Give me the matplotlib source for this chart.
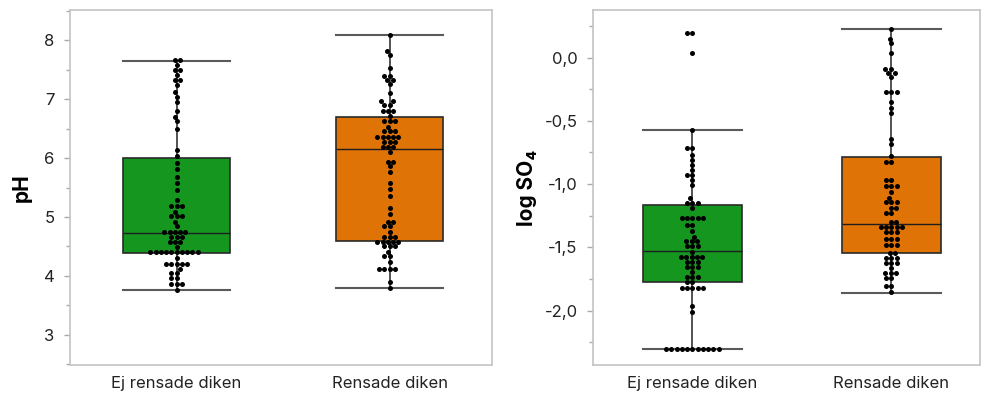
import numpy as np
import pandas as pd
import matplotlib
matplotlib.use('Agg')
import matplotlib.pyplot as plt
from matplotlib.ticker import MultipleLocator, FuncFormatter
import seaborn as sns

plt.rcParams['font.family'] = ['Inter', 'DejaVu Sans']

groups = ['Ej rensade diken', 'Rensade diken']
box_colors = ['#14961f', '#e07306']

# pH, read row by row from the swarm (value of the row, number of dots in it)
ph_ej_rows = [7.66, 7.58, 7.49, 7.41, 7.32, 7.24, 7.12, 7.04, 6.95, 6.79, 6.70, 6.62, 6.50,
              6.14, 6.03, 5.91, 5.81, 5.68, 5.58, 5.46, 5.29, 5.18, 5.09, 5.01, 4.92, 4.84,
              4.74, 4.66, 4.57, 4.49, 4.40, 4.30, 4.21, 4.11, 4.05, 3.96, 3.86, 3.77]
ph_ej_counts = [2, 1, 2, 1, 2, 1, 1, 1, 1, 1, 1, 1, 1,
                1, 1, 1, 1, 1, 1, 1, 1, 3, 1, 3, 1, 1,
                5, 3, 3, 1, 10, 1, 5, 1, 2, 2, 3, 1]

ph_r_rows = [8.09, 7.82, 7.75, 7.52, 7.39, 7.32, 7.25, 7.10, 6.97, 6.90, 6.80, 6.72, 6.63,
             6.53, 6.45, 6.36, 6.28, 6.19, 6.11, 5.94, 5.86, 5.77, 5.57, 5.47, 5.36, 5.16,
             5.05, 4.92, 4.84, 4.75, 4.66, 4.58, 4.50, 4.41, 4.33, 4.24, 4.11, 3.89, 3.79]
ph_r_counts = [1, 1, 1, 1, 2, 2, 1, 1, 2, 2, 3, 1, 3,
               1, 3, 5, 3, 3, 1, 2, 1, 1, 1, 1, 1, 1,
               1, 2, 2, 1, 3, 5, 3, 1, 2, 1, 4, 1, 1]

# log SO4
so4_ej_rows = [0.198, 0.04, -0.574, -0.713, -0.773, -0.812, -0.852, -0.891, -0.931, -0.971,
               -1.01, -1.113, -1.147, -1.193, -1.269, -1.322, -1.375, -1.417, -1.452, -1.491,
               -1.536, -1.575, -1.614, -1.654, -1.694, -1.733, -1.773, -1.82, -1.963, -2.008,
               -2.306]
so4_ej_counts = [2, 1, 1, 2, 1, 1, 1, 1, 2, 1,
                 1, 1, 3, 1, 5, 2, 1, 1, 3, 3,
                 1, 5, 3, 3, 1, 3, 2, 5, 1, 1,
                 11]

so4_r_rows = [0.229, 0.150, 0.113, 0.04, -0.087, -0.119, -0.151, -0.273, -0.352, -0.396,
              -0.436, -0.642, -0.685, -0.774, -0.822, -0.964, -1.017, -1.06, -1.11, -1.144,
              -1.189, -1.228, -1.30, -1.339, -1.379, -1.434, -1.482, -1.545, -1.582, -1.622,
              -1.664, -1.704, -1.743, -1.804, -1.854]
so4_r_counts = [1, 1, 1, 1, 2, 2, 1, 3, 1, 1,
                1, 1, 1, 1, 2, 2, 3, 1, 1, 3,
                2, 2, 2, 5, 3, 3, 3, 2, 3, 3,
                1, 3, 2, 2, 1]

# box statistics (Ej rensade, Rensade)
ph_q1 = [4.39, 4.60]
ph_med = [4.72, 6.15]
ph_q3 = [6.00, 6.69]
ph_lo = [3.76, 3.79]
ph_hi = [7.64, 8.08]

so4_q1 = [-1.778, -1.545]
so4_med = [-1.532, -1.313]
so4_q3 = [-1.168, -0.785]
so4_lo = [-2.306, -1.86]
so4_hi = [-0.574, 0.227]


def draw_panel(ax, rows, counts, q1, med, q3, lo, hi):
    stats = [dict(q1=q1[i], med=med[i], q3=q3[i], whislo=lo[i], whishi=hi[i], fliers=[])
             for i in range(2)]
    bp = ax.bxp(stats, positions=[0, 1], widths=0.5, capwidths=0.5, patch_artist=True,
                showfliers=False, manage_ticks=False,
                boxprops=dict(edgecolor='#2a2a2a', linewidth=1.2),
                medianprops=dict(color='#1e1e1e', linewidth=1.0),
                whiskerprops=dict(color='#444444', linewidth=1.3),
                capprops=dict(color='#5a5a5a', linewidth=1.5))
    for patch, c in zip(bp['boxes'], box_colors):
        patch.set_facecolor(c)

    vals = [np.repeat(rows[i], counts[i]) for i in range(2)]
    df = pd.DataFrame({'grp': np.repeat(groups, [len(v) for v in vals]),
                       'val': np.concatenate(vals)})
    sns.swarmplot(data=df, x='grp', y='val', order=groups, ax=ax, color='black',
                  size=3.6, linewidth=0, zorder=4)

    ax.set_xticks([0, 1], groups)
    ax.set_xlabel('')
    for s in ax.spines.values():
        s.set_color('#c4c4c4')
        s.set_linewidth(1.2)
    ax.tick_params(axis='x', length=0, pad=8, labelsize=12, labelcolor='#222222')
    ax.tick_params(axis='y', which='major', length=4, width=1, color='#aaaaaa',
                   pad=7, labelsize=12, labelcolor='#222222')
    ax.tick_params(axis='y', which='minor', length=3, width=1, color='#aaaaaa')


fig = plt.figure(figsize=(9.81, 3.96), dpi=100)
ax1 = fig.add_axes([70 / 981, 31 / 396, 422 / 981, 355 / 396])
ax2 = fig.add_axes([593 / 981, 31 / 396, 387 / 981, 355 / 396])

draw_panel(ax1, [ph_ej_rows, ph_r_rows], [ph_ej_counts, ph_r_counts],
           ph_q1, ph_med, ph_q3, ph_lo, ph_hi)
ax1.set_xlim(-0.5, 1.48)
ax1.set_ylim(2.49, 8.51)
ax1.yaxis.set_major_locator(MultipleLocator(1))
ax1.yaxis.set_minor_locator(MultipleLocator(0.5))
ax1.set_ylabel('pH', fontsize=15, fontweight='bold')
ax1.yaxis.set_label_coords(-0.09, 0.5)

draw_panel(ax2, [so4_ej_rows, so4_r_rows], [so4_ej_counts, so4_r_counts],
           so4_q1, so4_med, so4_q3, so4_lo, so4_hi)
ax2.set_xlim(-0.5, 1.445)
ax2.set_ylim(-2.431, 0.377)
ax2.yaxis.set_major_locator(MultipleLocator(0.5))
ax2.yaxis.set_minor_locator(MultipleLocator(0.25))
ax2.yaxis.set_major_formatter(FuncFormatter(lambda v, p: f'{v:.1f}'.replace('.', ',')))
ax2.set_ylabel('log SO\u2084', fontsize=15, fontweight='bold')
ax2.yaxis.set_label_coords(-0.145, 0.5)

fig.savefig('out.png', dpi=100)
